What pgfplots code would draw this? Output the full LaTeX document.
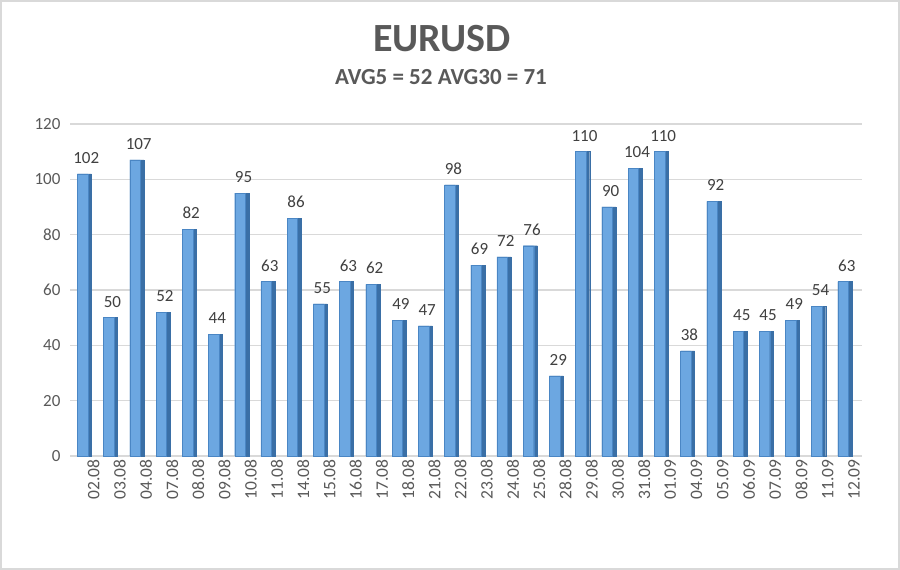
\documentclass[border=0pt]{standalone}
\usepackage{pgfplots}
\pgfplotsset{compat=1.18}
\usepackage{pgfplotstable}
\usepackage{fontspec}
\setmainfont{Carlito}
\definecolor{txt}{HTML}{595959}
\definecolor{lbl}{HTML}{404040}
\definecolor{gridc}{HTML}{D9D9D9}
\definecolor{barF}{HTML}{6CA7E1}
\definecolor{barS}{HTML}{3A6FA6}
\definecolor{barE}{HTML}{4A86C4}
\pgfplotstableread{
x v
0 102
1 50
2 107
3 52
4 82
5 44
6 95
7 63
8 86
9 55
10 63
11 62
12 49
13 47
14 98
15 69
16 72
17 76
18 29
19 110
20 90
21 104
22 110
23 38
24 92
25 45
26 45
27 49
28 54
29 63
}\data
\begin{document}
\begin{tikzpicture}[x=1pt,y=1pt]
\fill[white] (0,0) rectangle (900,570);
\draw[gridc,line width=2pt] (1,1) rectangle (899,569);
\node[font=\fontsize{40}{44}\selectfont\bfseries,text=txt] at (442,531) {EURUSD};
\node[font=\fontsize{23}{26}\selectfont\bfseries,text=txt] at (441,493) {AVG5 = 52 AVG30 = 71};
\begin{axis}[
  at={(70pt,114pt)}, anchor=south west,
  width=792pt, height=332pt, scale only axis,
  xmin=-0.55, xmax=29.65, ymin=0, ymax=120,
  ytick={0,20,...,120},
  xtick={0,...,29},
  xticklabels={02.08,03.08,04.08,07.08,08.08,09.08,10.08,11.08,14.08,15.08,16.08,17.08,18.08,21.08,22.08,23.08,24.08,25.08,28.08,29.08,30.08,31.08,01.09,04.09,05.09,06.09,07.09,08.09,11.09,12.09},
  x tick label style={rotate=90, anchor=east, font=\fontsize{17.5}{20}\selectfont, text=txt},
  y tick label style={font=\fontsize{17}{19}\selectfont, text=txt},
  /pgf/number format/assume math mode=true,
  ymajorgrids, grid style={draw=gridc, line width=1.2pt},
  axis line style={draw=none},
  axis x line*=bottom, axis y line*=left,
  major tick length=0pt,
  xtick style={draw=none}, ytick style={draw=none},
  yticklabel style={xshift=-6pt},
  xticklabel style={yshift=-9pt},
  clip=false,
]
\addplot[ybar, bar width=14pt, bar shift=0pt, fill=barS, draw=barS, line width=0.4pt]
  table[x=x,y=v]{\data};
\addplot[ybar, bar width=10.5pt, bar shift=-1.8pt, fill=barF, draw=barE, line width=0.4pt,
  nodes near coords, every node near coord/.append style={font=\fontsize{17}{19}\selectfont, text=lbl, xshift=1.8pt, yshift=7pt},
  /pgf/number format/assume math mode=true]
  table[x=x,y=v]{\data};
\end{axis}
\end{tikzpicture}
\end{document}
